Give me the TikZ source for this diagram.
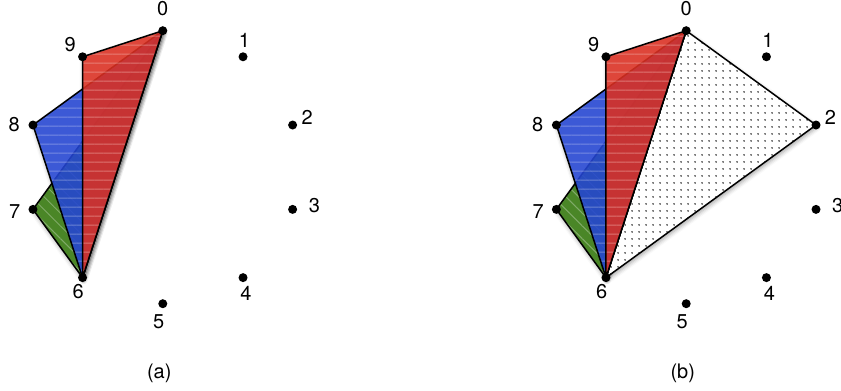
\documentclass[tikz,border=0pt]{standalone}
\usepackage{fontspec}
\setmainfont{TeX Gyre Heros}
\usetikzlibrary{patterns.meta, shadows.blur}

\definecolor{triRed}{RGB}{218,48,34}
\definecolor{triBlue}{RGB}{36,69,210}
\definecolor{triGreen}{RGB}{52,120,13}

\tikzset{
  vtx/.style={circle, fill=black, inner sep=0pt, minimum size=9pt},
  num/.style={inner sep=0pt},
  rim/.style={draw=black, line width=1.5pt, line join=round},
  hatch/.style={pattern color=white},
  lifted/.style={blur shadow={shadow xshift=1pt, shadow yshift=-2.5pt,
      shadow blur radius=4pt, shadow opacity=35}}
}

\begin{document}
\begin{tikzpicture}[x=1pt, y=-1pt, font=\fontsize{20}{24}\selectfont]
  \useasboundingbox (0,0) rectangle (841,391);
  % ten points on a circle, panel (a) and panel (b)
  \foreach \p/\cx in {a/162.8, b/686.2}
    \foreach \k in {0,...,9}
      \coordinate (\p\k) at ({\cx+136.5*cos(90-36*\k)}, {167.2-136.5*sin(90-36*\k)});

  % soft shadows, then a white ground
  \foreach \p in {a,b}
    \foreach \t in {7,8,9}
      \path[lifted] (\p\t) -- (\p0) -- (\p6) -- cycle;
  \path[lifted] (b0) -- (b2) -- (b6) -- cycle;
  \foreach \p in {a,b}
    \foreach \t in {7,8,9}
      \fill[white] (\p\t) -- (\p0) -- (\p6) -- cycle;

  % dotted triangle, panel (b) only
  \fill[white] (b0) -- (b2) -- (b6) -- cycle;
  \draw[rim, pattern={Dots[distance=6.5pt, radius=.85pt]}, pattern color=black]
    (b0) -- (b2) -- (b6) -- cycle;

  % fan of triangles at 0 and 6
  \foreach \p in {a,b}
    \foreach \t/\c/\a in {7/triGreen/-45, 8/triBlue/0, 9/triRed/0}{
      \fill[\c, fill opacity=.89] (\p\t) -- (\p0) -- (\p6) -- cycle;
      \begin{scope}[transparency group, opacity=.3]
        \fill[hatch, pattern={Lines[angle=\a, distance=9pt, line width=1pt]}]
          (\p\t) -- (\p0) -- (\p6) -- cycle;
      \end{scope}
      \draw[rim] (\p\t) -- (\p0) -- (\p6) -- cycle;
    }

  % points and their numbers
  \foreach \p in {a,b}
    \foreach \k/\dx/\dy in {0/0/-22, 1/1.5/-16.7, 2/14.5/-8, 3/21.7/-4.3, 4/3/15.4,
        5/-4/18.4, 6/-4.4/14, 7/-18.3/2.4, 8/-18.7/0, 9/-12.3/-12.3}{
      \node[vtx] (dot\p\k) at (\p\k) {};
      \node[num] (lab\p\k) at ([shift={(\dx,\dy)}]\p\k) {\k};
    }

  \node (capa) at (159.3,373.3) {(a)};
  \node (capb) at (682.8,373.3) {(b)};
\end{tikzpicture}
\end{document}
